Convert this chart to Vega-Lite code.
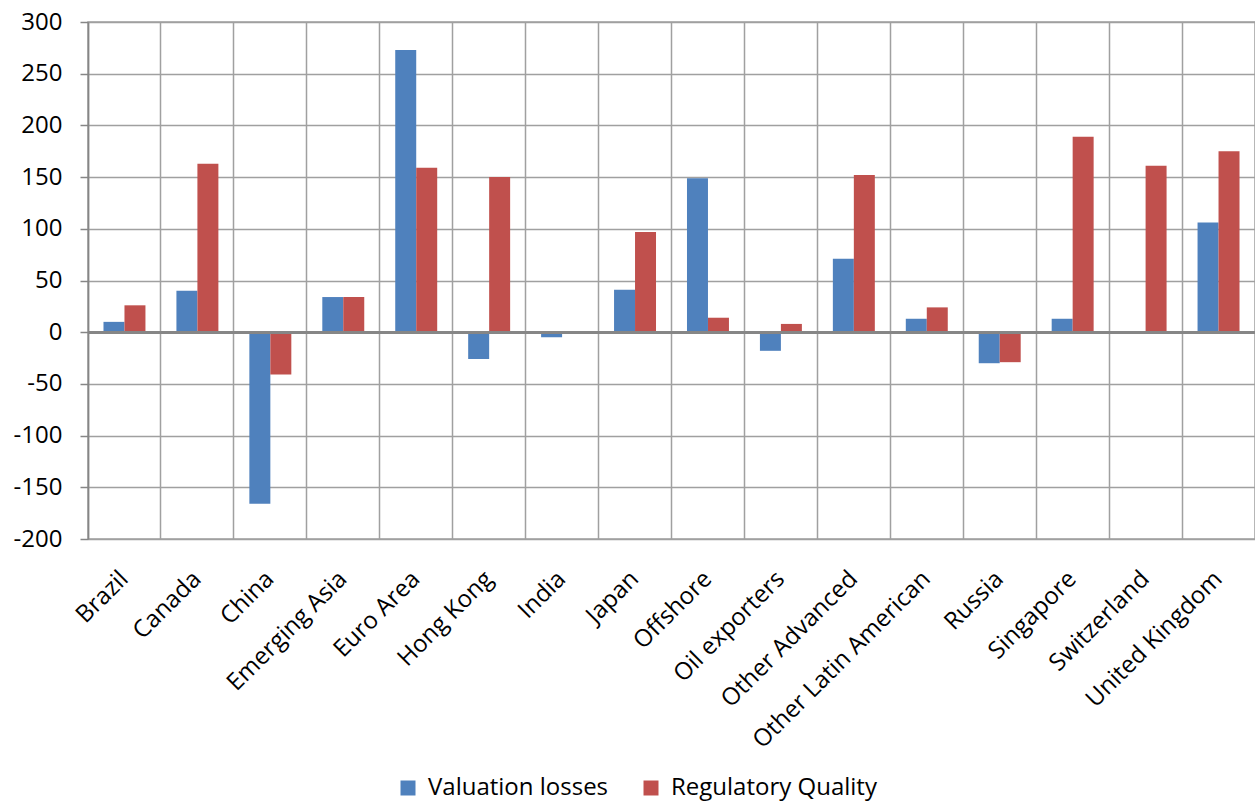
{
  "$schema": "https://vega.github.io/schema/vega-lite/v6.json",
  "autosize": "none",
  "width": 1167,
  "height": 517,
  "padding": {"left": 88, "top": 22, "right": 0, "bottom": 267},
  "background": "white",
  "config": {"view": {"stroke": "#a0a0a0", "strokeWidth": 1.5}, "font": "Open Sans"},
  "data": {"values": [
    {"country": "Brazil", "series": "Valuation losses", "value": 10},
    {"country": "Brazil", "series": "Regulatory Quality", "value": 26},
    {"country": "Canada", "series": "Valuation losses", "value": 40},
    {"country": "Canada", "series": "Regulatory Quality", "value": 163},
    {"country": "China", "series": "Valuation losses", "value": -166},
    {"country": "China", "series": "Regulatory Quality", "value": -41},
    {"country": "Emerging Asia", "series": "Valuation losses", "value": 34},
    {"country": "Emerging Asia", "series": "Regulatory Quality", "value": 34},
    {"country": "Euro Area", "series": "Valuation losses", "value": 273},
    {"country": "Euro Area", "series": "Regulatory Quality", "value": 159},
    {"country": "Hong Kong", "series": "Valuation losses", "value": -26},
    {"country": "Hong Kong", "series": "Regulatory Quality", "value": 150},
    {"country": "India", "series": "Valuation losses", "value": -5},
    {"country": "India", "series": "Regulatory Quality", "value": 0},
    {"country": "Japan", "series": "Valuation losses", "value": 41},
    {"country": "Japan", "series": "Regulatory Quality", "value": 97},
    {"country": "Offshore", "series": "Valuation losses", "value": 149},
    {"country": "Offshore", "series": "Regulatory Quality", "value": 14},
    {"country": "Oil exporters", "series": "Valuation losses", "value": -18},
    {"country": "Oil exporters", "series": "Regulatory Quality", "value": 8},
    {"country": "Other Advanced", "series": "Valuation losses", "value": 71},
    {"country": "Other Advanced", "series": "Regulatory Quality", "value": 152},
    {"country": "Other Latin American", "series": "Valuation losses", "value": 13},
    {"country": "Other Latin American", "series": "Regulatory Quality", "value": 24},
    {"country": "Russia", "series": "Valuation losses", "value": -30},
    {"country": "Russia", "series": "Regulatory Quality", "value": -29},
    {"country": "Singapore", "series": "Valuation losses", "value": 13},
    {"country": "Singapore", "series": "Regulatory Quality", "value": 189},
    {"country": "Switzerland", "series": "Valuation losses", "value": 0},
    {"country": "Switzerland", "series": "Regulatory Quality", "value": 161},
    {"country": "United Kingdom", "series": "Valuation losses", "value": 106},
    {"country": "United Kingdom", "series": "Regulatory Quality", "value": 175}
  ]},
  "layer": [
    {
      "mark": {"type": "bar"},
      "encoding": {
        "x": {
          "field": "country", "type": "nominal", "sort": null,
          "scale": {"paddingInner": 0, "paddingOuter": 0},
          "axis": {
            "title": null, "bandPosition": 0, "grid": true, "gridColor": "#a0a0a0", "gridWidth": 1.5,
            "domain": false, "ticks": false, "labelAngle": -45, "labelAlign": "right", "labelBaseline": "middle",
            "labelPadding": 36, "labelFontSize": 24, "labelColor": "black", "labelFont": "Open Sans",
            "labelBound": false, "labelOverlap": false, "labelFlush": false, "labelLimit": 0
          }
        },
        "xOffset": {
          "field": "series", "type": "nominal", "sort": ["Valuation losses", "Regulatory Quality"],
          "scale": {"paddingInner": 0, "paddingOuter": 0.738}
        },
        "y": {
          "field": "value", "type": "quantitative",
          "scale": {"domain": [-200, 300], "nice": false, "zero": false},
          "axis": {
            "title": null, "values": [-200, -150, -100, -50, 0, 50, 100, 150, 200, 250, 300],
            "labelExpr": "datum.value < 0 ? '-' + abs(datum.value) : '' + datum.value",
            "grid": true, "gridColor": "#a0a0a0", "gridWidth": 1.5,
            "domainColor": "#868686", "domainWidth": 1.5, "tickColor": "#868686", "tickSize": 8, "tickWidth": 1.5,
            "labelFontSize": 24, "labelColor": "black", "labelPadding": 18, "labelFont": "Open Sans"
          }
        },
        "color": {
          "field": "series", "type": "nominal", "sort": ["Valuation losses", "Regulatory Quality"],
          "scale": {"domain": ["Valuation losses", "Regulatory Quality"], "range": ["#4F81BD", "#C0504D"]},
          "legend": {
            "title": null, "orient": "none", "legendX": 308, "legendY": 754, "direction": "horizontal",
            "symbolType": "square", "symbolSize": 225, "symbolStrokeWidth": 0, "labelOffset": 8,
            "labelFontSize": 24, "labelColor": "black", "labelFont": "Open Sans", "columnPadding": 30, "labelLimit": 400
          }
        }
      }
    },
    {
      "mark": {"type": "rule", "color": "#868686", "strokeWidth": 2.5},
      "encoding": {"y": {"datum": 0}}
    }
  ]
}
